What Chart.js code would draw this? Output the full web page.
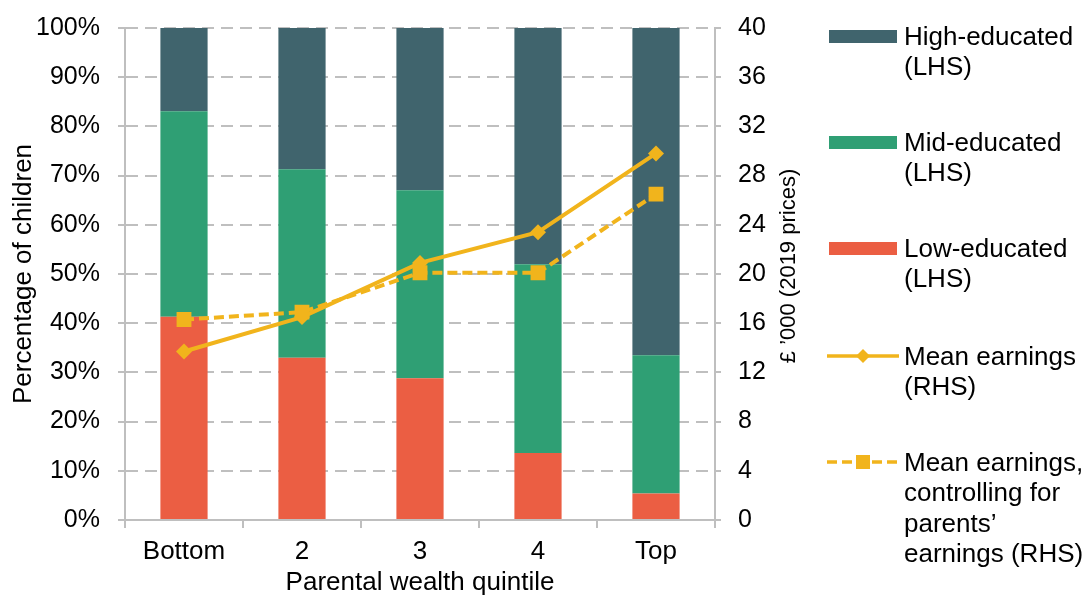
<!DOCTYPE html>
<html>
<head>
<meta charset="utf-8">
<script src="https://cdn.jsdelivr.net/npm/chart.js@4.4.1/dist/chart.umd.min.js"></script>
<style>
  body { margin: 0; background: #fff; }
  #wrap { position: relative; width: 1089px; height: 598px; font-family: "Liberation Sans", Arial, sans-serif; }
  #chart { position: absolute; left: 0; top: 0; }
  .item { position: absolute; left: 827px; font-size: 26px; line-height: 30.5px; color: #000; }
  .item .key { position: absolute; left: 0; }
  .item .txt { position: absolute; left: 77px; top: 0; white-space: nowrap; }
</style>
</head>
<body>
<div id="wrap">
  <canvas id="chart" width="1089" height="598"></canvas>
  <div id="legend"></div>
</div>
<script>
// data
const quintiles = ["Bottom", "2", "3", "4", "Top"];
const lowEducated = [41.3, 33.0, 28.8, 13.6, 5.4];
const midEducated = [41.8, 38.3, 38.2, 38.4, 28.1];
const highEducated = [16.9, 28.7, 33.0, 48.0, 66.5];
const meanEarnings = [13.7, 16.5, 20.9, 23.4, 29.8];
const meanEarningsControlled = [16.3, 16.9, 20.1, 20.1, 26.5];

const colHigh = "#40646d";
const colMid = "#2f9f74";
const colLow = "#eb5e43";
const colGold = "#f1b41c";
const colAxis = "#bfbfbf";

Chart.defaults.font.family = "'Liberation Sans', Arial, sans-serif";
Chart.defaults.color = "#000";

// right axis title reads bottom-to-top, so draw it by hand
const rightTitle = {
  id: "rightTitle",
  afterDraw(chart) {
    const ctx = chart.ctx;
    const y1 = chart.scales.y1;
    ctx.save();
    ctx.translate(y1.left + 74, 266);
    ctx.rotate(-Math.PI / 2);
    ctx.font = "22px 'Liberation Sans', Arial, sans-serif";
    ctx.fillStyle = "#000";
    ctx.textAlign = "center";
    ctx.textBaseline = "middle";
    ctx.fillText("£ ’000 (2019 prices)", 0, 0);
    ctx.restore();
  }
};

// keep the plot box where the reference has it
function fixVertical(width) {
  return s => { s.width = width; s.paddingTop = 0; s.paddingBottom = 0; };
}

new Chart(document.getElementById("chart"), {
  data: {
    labels: quintiles,
    datasets: [
      { type: "line", label: "Mean earnings (RHS)", data: meanEarnings, yAxisID: "y1",
        borderColor: colGold, backgroundColor: colGold, borderWidth: 4,
        pointStyle: "rectRot", pointRadius: 8, pointBorderWidth: 0, order: 0 },
      { type: "line", label: "Mean earnings, controlling for parents’ earnings (RHS)", data: meanEarningsControlled, yAxisID: "y1",
        borderColor: colGold, backgroundColor: colGold, borderWidth: 4, borderDash: [10, 5],
        pointStyle: "rect", pointRadius: 10.5, pointBorderWidth: 0, order: 0 },
      { type: "bar", label: "Low-educated (LHS)", data: lowEducated, backgroundColor: colLow, yAxisID: "y", order: 1 },
      { type: "bar", label: "Mid-educated (LHS)", data: midEducated, backgroundColor: colMid, yAxisID: "y", order: 1 },
      { type: "bar", label: "High-educated (LHS)", data: highEducated, backgroundColor: colHigh, yAxisID: "y", order: 1 }
    ]
  },
  options: {
    responsive: false,
    animation: false,
    layout: { padding: { top: 28, right: 279, bottom: 0, left: 0 } },
    datasets: { bar: { barPercentage: 0.4, categoryPercentage: 1 } },
    plugins: { legend: { display: false }, tooltip: { enabled: false } },
    scales: {
      x: {
        stacked: true,
        grid: { offset: true, drawOnChartArea: false, tickLength: 8, color: colAxis, lineWidth: 2 },
        border: { color: colAxis, width: 2 },
        ticks: { font: { size: 26 }, padding: 8, color: "#000" },
        title: { display: true, text: "Parental wealth quintile", font: { size: 26 }, padding: { top: 0, bottom: 0 } },
        afterFit(s) { s.height = 78; }
      },
      y: {
        stacked: true,
        position: "left",
        min: 0, max: 100,
        ticks: { stepSize: 10, font: { size: 25 }, padding: 18, color: "#000", callback: v => v + "%" },
        grid: { color: colAxis, lineWidth: 2, tickLength: 7, tickColor: colAxis, tickBorderDash: [] },
        border: { color: colAxis, width: 2, dash: [12, 7] },
        title: { display: true, text: "Percentage of children", font: { size: 26 }, padding: { top: 8, bottom: 0 } },
        afterFit: fixVertical(125)
      },
      y1: {
        position: "right",
        min: 0, max: 40,
        ticks: { stepSize: 4, font: { size: 25 }, padding: 17, color: "#000" },
        grid: { drawOnChartArea: false, tickLength: 6, color: colAxis, lineWidth: 2 },
        border: { color: colAxis, width: 2 },
        afterFit: fixVertical(95)
      }
    }
  },
  plugins: [rightTitle]
});

// legend, built to the right of the plot
const legendItems = [
  { lines: ["High-educated", "(LHS)"], kind: "bar", color: colHigh, y: 36 },
  { lines: ["Mid-educated", "(LHS)"], kind: "bar", color: colMid, y: 142 },
  { lines: ["Low-educated", "(LHS)"], kind: "bar", color: colLow, y: 248 },
  { lines: ["Mean earnings", "(RHS)"], kind: "solid", color: colGold, y: 356 },
  { lines: ["Mean earnings,", "controlling for", "parents’", "earnings (RHS)"], kind: "dash", color: colGold, y: 462 }
];
const legend = document.getElementById("legend");
legendItems.forEach(it => {
  const div = document.createElement("div");
  div.className = "item";
  div.style.top = (it.y - 15.25) + "px";
  let key;
  if (it.kind === "bar") {
    key = `<div class="key" style="top:9px;left:2px;width:68px;height:13px;background:${it.color}"></div>`;
  } else if (it.kind === "solid") {
    key = `<svg class="key" style="top:5px" width="72" height="20">
      <line x1="0" y1="10" x2="72" y2="10" stroke="${it.color}" stroke-width="3.5"/>
      <polygon points="36,3 43,10 36,17 29,10" fill="${it.color}"/></svg>`;
  } else {
    key = `<svg class="key" style="top:5px" width="72" height="20">
      <line x1="0" y1="10" x2="72" y2="10" stroke="${it.color}" stroke-width="3.5" stroke-dasharray="10,5"/>
      <rect x="29" y="3" width="14" height="14" fill="${it.color}"/></svg>`;
  }
  div.innerHTML = key + `<div class="txt">${it.lines.join("<br>")}</div>`;
  legend.appendChild(div);
});
</script>
</body>
</html>
